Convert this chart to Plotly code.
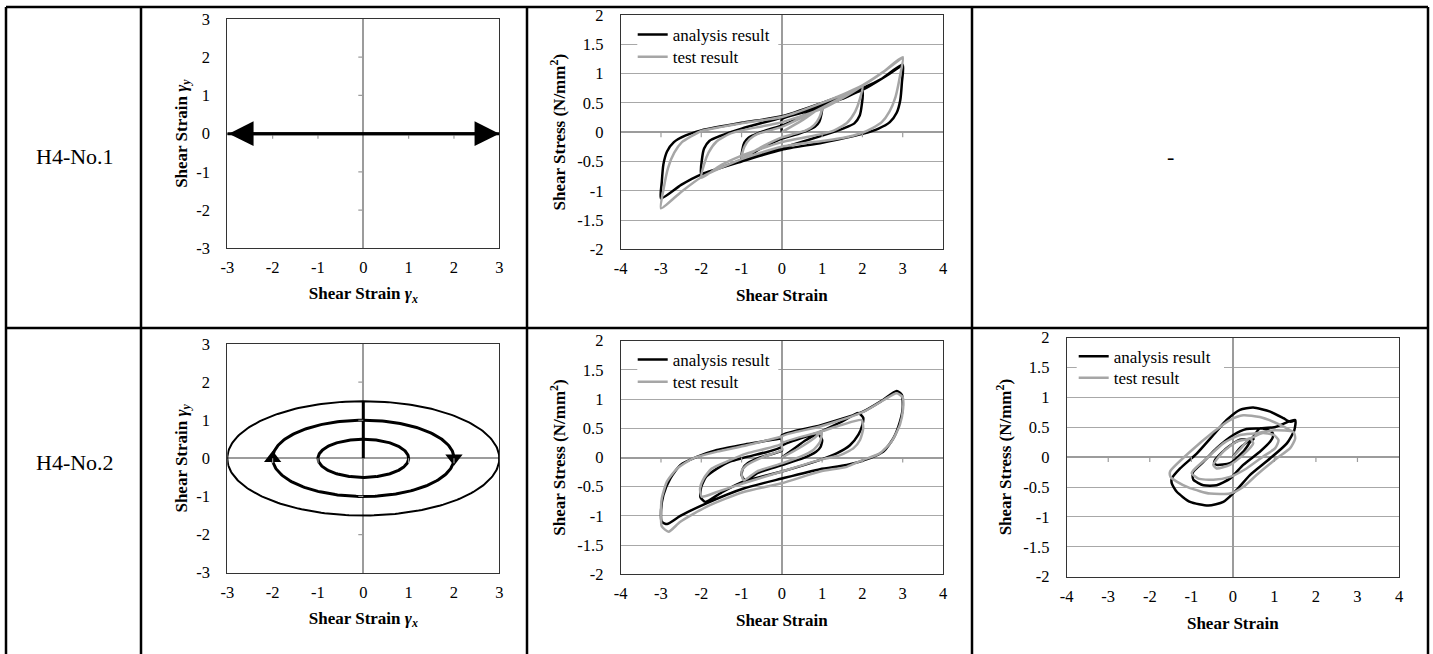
import numpy as np
import plotly.graph_objects as go

W, H = 1433, 654
FONT = "Liberation Serif, Times New Roman, serif"


def px(x):
    return x / W


def py(y):
    return 1 - y / H


# ------------------------------------------------------------------ data
row_labels = ["H4-No.1", "H4-No.2"]
empty_cell_text = "-"

# loading path H4-No.1 (uniaxial, gamma_y = 0)
no1_path_x = [-3, 3]
no1_path_y = [0, 0]

# loading path H4-No.2 (elliptical orbits)
no2_orbit_ax = [1, 2, 3]
no2_orbit_ay = [0.5, 1.0, 1.5]

path_tickvals = [-3, -2, -1, 0, 1, 2, 3]
path_ticktext = ["-3", "-2", "-1", "0", "1", "2", "3"]
strain_tickvals = [-4, -3, -2, -1, 0, 1, 2, 3, 4]
strain_ticktext = ["-4", "-3", "-2", "-1", "0", "1", "2", "3", "4"]
stress_tickvals = [-2, -1.5, -1, -0.5, 0, 0.5, 1, 1.5, 2]
stress_ticktext = ["-2", "-1.5", "-1", "-0.5", "0", "0.5", "1", "1.5", "2"]

# H4-No.1 hysteresis, analysis result
no1_ana_x = [0, 0, 0.5, 1.0,
             0.98, 0.93, 0.82, 0.6, 0.3, 0, -0.5, -1.0,
             -0.98, -0.93, -0.82, -0.6, -0.3, 0, 0.5, 1.0,
             1.5, 2.0,
             1.98, 1.93, 1.8, 1.55, 1.0, 0, -1.0, -1.5, -2.0,
             -1.98, -1.93, -1.8, -1.55, -1.0, 0, 1.0, 1.5, 2.0,
             2.5, 3.0,
             2.98, 2.94, 2.85, 2.68, 2.4, 2.0, 1.0, 0, -1.0, -2.0, -2.5, -3.0,
             -2.98, -2.94, -2.85, -2.68, -2.4, -2.0, -1.0, 0, 1.0, 2.0, 2.5, 3.0]
no1_ana_y = [0, 0.22, 0.33, 0.45,
             0.3, 0.18, 0.09, 0.02, -0.05, -0.11, -0.27, -0.45,
             -0.3, -0.18, -0.09, -0.02, 0.05, 0.11, 0.27, 0.45,
             0.57, 0.70,
             0.45, 0.28, 0.15, 0.07, -0.06, -0.27, -0.48, -0.6, -0.72,
             -0.45, -0.28, -0.15, -0.07, 0.06, 0.25, 0.47, 0.6, 0.72,
             0.92, 1.15,
             0.85, 0.55, 0.33, 0.17, 0.06, -0.03, -0.18, -0.3, -0.5, -0.72, -0.9, -1.13,
             -0.85, -0.55, -0.33, -0.17, -0.06, 0.03, 0.16, 0.27, 0.5, 0.75, 0.92, 1.15]

# H4-No.1 hysteresis, test result
no1_test_x = [0, 0.5, 1.0,
              0.93, 0.8, 0.6, 0.3, 0, -0.5, -1.0,
              -0.93, -0.8, -0.6, -0.3, 0, 0.5, 1.0,
              1.5, 2.0,
              1.93, 1.82, 1.62, 1.3, 1.0, 0, -1.0, -1.5, -2.0,
              -1.93, -1.82, -1.62, -1.3, -1.0, 0, 1.0, 1.5, 2.0,
              2.5, 3.0,
              2.93, 2.82, 2.67, 2.48, 2.25, 2.0, 1.5, 1.0, 0, -1.0, -2.0, -2.5, -3.0,
              -2.93, -2.82, -2.67, -2.48, -2.25, -2.0, -1.5, -1.0, 0, 1.0, 2.0, 2.5, 3.0]
no1_test_y = [0, 0.2, 0.42,
              0.25, 0.12, 0.03, -0.03, -0.09, -0.25, -0.44,
              -0.25, -0.12, -0.03, 0.03, 0.09, 0.25, 0.42,
              0.6, 0.79,
              0.55, 0.35, 0.16, 0.03, -0.03, -0.17, -0.4, -0.56, -0.78,
              -0.55, -0.35, -0.16, -0.03, 0.03, 0.17, 0.4, 0.58, 0.79,
              1.02, 1.28,
              0.95, 0.6, 0.35, 0.17, 0.07, -0.01, -0.1, -0.15, -0.25, -0.46, -0.77, -1.02, -1.3,
              -0.95, -0.6, -0.35, -0.17, -0.07, 0.02, 0.09, 0.15, 0.26, 0.5, 0.8, 1.02, 1.28]

# H4-No.2 hysteresis (gamma_x direction), analysis result
no2x_ana_x = [0, 0.3, 0.6, 0.9, 1.0, 0.96, 0.85, 0.53, 0, -0.62, -0.9, -1.0, -0.96, -0.85, -0.54, 0,
              0, 0.95, 1.5, 1.9, 2.02, 2.0, 1.9, 1.69, 1.36, 0.95, 0, -0.95, -1.5, -1.9,
              -2.02, -2.0, -1.88, -1.61, -1.29, -0.87, 0,
              0, 0.95, 2.0, 2.5, 2.85, 2.98, 3.0, 2.93, 2.77, 2.52, 2.19, 1.61, 0.95, 0,
              -0.95, -1.86, -2.52, -2.85, -2.98, -3.0, -2.94, -2.77, -2.52, -2.11, -1.61, -0.87, 0]
no2x_ana_y = [0, 0.15, 0.3, 0.4, 0.3, 0.18, 0.1, -0.01, -0.13, -0.27, -0.4, -0.3, -0.18, -0.1, 0.0, 0.12,
              0.2, 0.44, 0.62, 0.76, 0.68, 0.56, 0.39, 0.21, 0.07, -0.04, -0.24, -0.41, -0.6, -0.76,
              -0.68, -0.5, -0.33, -0.19, -0.07, 0.01, 0.19,
              0.38, 0.55, 0.78, 0.98, 1.14, 1.07, 0.84, 0.61, 0.33, 0.1, -0.01, -0.13, -0.2, -0.36,
              -0.53, -0.78, -1.0, -1.14, -1.1, -0.93, -0.64, -0.36, -0.13, 0.01, 0.13, 0.23, 0.33]

# H4-No.2 hysteresis (gamma_x direction), test result
no2x_test_x = [0, 0.4, 0.8, 0.99, 0.95, 0.78, 0.45, 0, -0.62, -0.95, -1.0, -0.87, -0.46, 0,
               0, 0.95, 1.5, 1.98, 2.02, 1.94, 1.78, 1.45, 0.95, 0, -0.95, -1.61, -1.99,
               -2.03, -1.94, -1.74, -1.37, -0.87, 0,
               0, 0.95, 2.02, 2.52, 2.85, 3.0, 3.01, 2.93, 2.72, 2.43, 2.02, 1.61, 0.95, 0,
               -0.95, -1.86, -2.52, -2.81, -2.98, -3.0, -2.98, -2.85, -2.6, -2.19, -1.61, -0.87, 0]
no2x_test_y = [0, 0.15, 0.33, 0.44, 0.27, 0.13, 0.01, -0.1, -0.24, -0.39, -0.24, -0.13, 0.01, 0.13,
               0.24, 0.44, 0.56, 0.64, 0.5, 0.3, 0.16, 0.04, -0.04, -0.24, -0.44, -0.59, -0.67,
               -0.53, -0.36, -0.19, -0.07, 0.07, 0.24,
               0.36, 0.53, 0.78, 0.98, 1.1, 1.03, 0.84, 0.56, 0.27, 0.07, -0.04, -0.16, -0.24, -0.44,
               -0.59, -0.84, -1.1, -1.27, -1.18, -0.98, -0.7, -0.41, -0.19, -0.01, 0.1, 0.21, 0.36]

# H4-No.2 hysteresis (gamma_y direction), analysis result
no2y_ana_x = [0, 0.17, 0.45, 0.5, 0.45, 0.25, -0.07, -0.39, -0.45, -0.43, -0.15, 0.17, 0.45,
              0.65, 0.94, 0.97, 0.9, 0.65, 0.25, -0.07, -0.39, -0.71, -0.95, -0.97, -0.95,
              -0.71, -0.39, 0.01, 0.33, 0.65, 1.0, 1.5,
              1.48, 1.3, 0.9, 0.41, 0.09, -0.23, -0.59, -1.03, -1.35, -1.47, -1.47, -1.27,
              -0.87, -0.47, -0.15, 0.17, 0.49, 0.9, 1.22, 1.38, 1.5]
no2y_ana_y = [0, 0.15, 0.3, 0.3, 0.28, 0.09, -0.1, -0.13, -0.1, -0.05, 0.15, 0.29, 0.31,
              0.48, 0.42, 0.35, 0.26, 0.09, -0.13, -0.36, -0.47, -0.47, -0.38, -0.3, -0.24,
              -0.08, 0.15, 0.37, 0.47, 0.48, 0.5, 0.62,
              0.45, 0.23, -0.02, -0.3, -0.55, -0.75, -0.81, -0.75, -0.58, -0.44, -0.36, -0.19,
              0.06, 0.37, 0.62, 0.79, 0.83, 0.76, 0.65, 0.59, 0.62]

# H4-No.2 hysteresis (gamma_y direction), test result
no2y_test_x = [0, 0.2, 0.41, 0.49, 0.25, -0.07, -0.39, -0.47, -0.23, 0.09, 0.41,
               0.7, 0.98, 1.1, 1.02, 0.73, 0.33, -0.07, -0.47, -0.83, -0.99, -0.95,
               -0.63, -0.23, 0.17, 0.57, 1.0, 1.46,
               1.5, 1.38, 1.06, 0.57, 0.25, -0.07, -0.55, -1.03, -1.35, -1.5, -1.51,
               -1.03, -0.47, -0.07, 0.25, 0.65, 1.14, 1.46]
no2y_test_y = [0, 0.15, 0.31, 0.23, 0.04, -0.13, -0.19, -0.13, 0.09, 0.26, 0.31,
               0.4, 0.37, 0.28, 0.15, 0.01, -0.19, -0.33, -0.38, -0.36, -0.27, -0.22,
               -0.02, 0.23, 0.37, 0.4, 0.45, 0.42,
               0.31, 0.15, -0.02, -0.3, -0.5, -0.61, -0.61, -0.52, -0.41, -0.33, -0.24,
               0.09, 0.42, 0.62, 0.7, 0.67, 0.54, 0.42]

series_names = ["analysis result", "test result"]

# ------------------------------------------------------------------ styles
BLACK = "#000000"
GRAY = "#a6a6a6"
GRID = "#a8a8a8"
ZERO = "#9c9c9c"
BORDER = "#333333"
TICK_FONT = dict(family=FONT, size=16.5, color="black")
TITLE_FONT = dict(family=FONT, size=17, color="black")

fig = go.Figure()

# -------- chart 1 : loading path H4-No.1
fig.add_trace(go.Scatter(x=no1_path_x, y=no1_path_y, mode="lines",
                         line=dict(color=BLACK, width=3), showlegend=False,
                         xaxis="x", yaxis="y", hoverinfo="skip"))

# -------- chart 3 : loading path H4-No.2 (ellipses)
theta = np.linspace(0, 2 * np.pi, 241)
for i, (a, b) in enumerate(zip(no2_orbit_ax, no2_orbit_ay)):
    fig.add_trace(go.Scatter(x=a * np.sin(theta), y=b * np.cos(theta), mode="lines",
                             line=dict(color=BLACK, width=2 if i == len(no2_orbit_ax) - 1 else 3),
                             showlegend=False, xaxis="x3", yaxis="y3", hoverinfo="skip"))
fig.add_trace(go.Scatter(x=[0, 0], y=[0, max(no2_orbit_ay)], mode="lines",
                         line=dict(color=BLACK, width=3), showlegend=False,
                         xaxis="x3", yaxis="y3", hoverinfo="skip"))
fig.add_trace(go.Scatter(x=[-no2_orbit_ax[1], no2_orbit_ax[1]], y=[0, 0], mode="markers",
                         marker=dict(symbol=["triangle-up", "triangle-down"], size=15, color=BLACK),
                         showlegend=False, xaxis="x3", yaxis="y3", hoverinfo="skip"))

# -------- hysteresis charts (each series gets its own one-row legend)
hyst = [
    ("x2", "y2", ("legend", "legend2"), no1_ana_x, no1_ana_y, no1_test_x, no1_test_y),
    ("x4", "y4", ("legend3", "legend4"), no2x_ana_x, no2x_ana_y, no2x_test_x, no2x_test_y),
    ("x5", "y5", ("legend5", "legend6"), no2y_ana_x, no2y_ana_y, no2y_test_x, no2y_test_y),
]
for xa, ya, lg, ax_, ay_, tx_, ty_ in hyst:
    fig.add_trace(go.Scatter(x=ax_, y=ay_, mode="lines", name=series_names[0],
                             line=dict(color=BLACK, width=2.5, shape="spline", smoothing=0.6),
                             xaxis=xa, yaxis=ya, legend=lg[0]))
    fig.add_trace(go.Scatter(x=tx_, y=ty_, mode="lines", name=series_names[1],
                             line=dict(color=GRAY, width=2.5, shape="spline", smoothing=0.6),
                             xaxis=xa, yaxis=ya, legend=lg[1]))


def axis(domain, rng, tickvals, ticktext, title, anchor, grid=False, ylike=False, standoff=6):
    d = dict(domain=domain, range=rng, tickvals=tickvals, ticktext=ticktext,
             tickfont=TICK_FONT, showline=True, linecolor=BORDER, linewidth=1, mirror=True,
             zeroline=True, zerolinecolor=ZERO, zerolinewidth=1.5,
             showgrid=grid, gridcolor=GRID, gridwidth=1,
             ticks="outside", ticklen=13 if ylike else 4, tickcolor="rgba(0,0,0,0)",
             anchor=anchor, fixedrange=True, automargin=False,
             title=dict(text=title, font=TITLE_FONT, standoff=standoff))
    return d


gx = "<b>Shear Strain <i>γ</i><sub><i>x</i></sub></b>"
gy = "<b>Shear Strain <i>γ</i><sub><i>y</i></sub></b>"
ss = "<b>Shear Strain</b>"
st = "<b>Shear Stress (N/mm<sup>2</sup>)</b>"

charts = {
    # name: (x0, x1, ytop, ybottom)
    "1": (227.3, 499.3, 19, 248.3),
    "2": (620.7, 943, 15, 249.3),
    "3": (227.3, 499.3, 344, 572.7),
    "4": (620.7, 943, 340.7, 574.3),
    "5": (1066.7, 1399, 337.5, 576.7),
}


def dom(c):
    x0, x1, yt, yb = charts[c]
    return [px(x0), px(x1)], [py(yb), py(yt)]


layout = dict(width=W, height=H, margin=dict(l=0, r=0, t=0, b=0, pad=0, autoexpand=False),
              paper_bgcolor="white", plot_bgcolor="white",
              font=dict(family=FONT, color="black"))

for c in ["1", "3"]:
    xd, yd = dom(c)
    k = "" if c == "1" else c
    layout["xaxis" + k] = axis(xd, [-3, 3], path_tickvals, path_ticktext, gx, "y" + k, standoff=11)
    layout["yaxis" + k] = axis(yd, [-3, 3], path_tickvals, path_ticktext, gy, "x" + k,
                               ylike=True, standoff=4)
for c in ["2", "4", "5"]:
    xd, yd = dom(c)
    layout["xaxis" + c] = axis(xd, [-4, 4], strain_tickvals, strain_ticktext, ss, "y" + c,
                               standoff=12)
    layout["yaxis" + c] = axis(yd, [-2, 2], stress_tickvals, stress_ticktext, st, "x" + c,
                               grid=True, ylike=True, standoff=7)

leg_common = dict(xanchor="left", yanchor="top", bgcolor="rgba(0,0,0,0)", borderwidth=0,
                  font=dict(family=FONT, size=17, color="black"), itemwidth=30)
# (legend name, line start x, row centre y)
legend_pos = [("legend", 641.7, 36), ("legend2", 641.7, 58.3),
              ("legend3", 641.7, 361), ("legend4", 641.7, 383.3),
              ("legend5", 1082.7, 357.7), ("legend6", 1082.7, 379.3)]
for name, lx, ly in legend_pos:
    layout[name] = dict(x=px(lx - 9), y=py(ly - 19), **leg_common)

shapes = []
# white legend boxes (interrupt the grid lines like the Excel legend)
for x0, x1, y0, y1 in [(637.3, 778.3, 28, 66), (637.3, 778.3, 353, 391), (1076.7, 1224, 348, 386)]:
    shapes.append(dict(type="rect", xref="paper", yref="paper", x0=px(x0), x1=px(x1),
                       y0=py(y1), y1=py(y0), fillcolor="white", line=dict(width=0), layer="above"))
# table grid
TL = dict(color="black", width=2.5)
for yv in [7, 328]:
    shapes.append(dict(type="line", xref="paper", yref="paper", x0=px(6), x1=px(1428),
                       y0=py(yv), y1=py(yv), line=TL))
for xv in [6, 141, 527, 972, 1428]:
    shapes.append(dict(type="line", xref="paper", yref="paper", x0=px(xv), x1=px(xv),
                       y0=py(7), y1=py(660), line=TL))

# small tick marks on the zero axes (Excel style, axes crossing at 0)
TK = dict(color=ZERO, width=1.2)
for k in ["", "3"]:
    for v in path_tickvals[1:-1]:
        if v == 0:
            continue
        shapes.append(dict(type="line", xref="x" + k, yref="y" + k, x0=v, x1=v,
                           ysizemode="pixel", yanchor=0, y0=0, y1=-5, line=TK))
        shapes.append(dict(type="line", xref="x" + k, yref="y" + k, y0=v, y1=v,
                           xsizemode="pixel", xanchor=0, x0=-5, x1=0, line=TK))
for k in ["2", "4", "5"]:
    for v in strain_tickvals[1:-1]:
        if v == 0:
            continue
        shapes.append(dict(type="line", xref="x" + k, yref="y" + k, x0=v, x1=v,
                           ysizemode="pixel", yanchor=0, y0=0, y1=-5, line=TK))
layout["shapes"] = shapes

annotations = []
# arrow heads of loading path H4-No.1
annotations.append(dict(x=no1_path_x[1], y=no1_path_y[1], ax=no1_path_x[0], ay=no1_path_y[0],
                        xref="x", yref="y", axref="x", ayref="y", text="", showarrow=True,
                        arrowhead=2, startarrowhead=2, arrowside="end+start",
                        arrowsize=1.65, startarrowsize=1.65, arrowwidth=3, arrowcolor=BLACK,
                        standoff=0, startstandoff=0))
# row labels
for lbl, yc in zip(row_labels, [157, 462]):
    annotations.append(dict(x=px(75), y=py(yc), xref="paper", yref="paper", text=lbl,
                            showarrow=False, font=dict(family=FONT, size=22, color="black"),
                            xanchor="center", yanchor="middle"))
annotations.append(dict(x=px(1170), y=py(157), xref="paper", yref="paper", text=empty_cell_text,
                        showarrow=False, font=dict(family=FONT, size=22, color="black"),
                        xanchor="center", yanchor="middle"))
layout["annotations"] = annotations

fig.update_layout(**layout)
post = ("var gd=document.getElementById('{plot_id}');"
        "gd.style.position='fixed';gd.style.left='0px';gd.style.top='0px';"
        "document.body.style.margin='0px';document.body.style.overflow='hidden';"
        "document.documentElement.style.overflow='hidden';")
fig.write_html("out.html", config={"displayModeBar": False}, post_script=post)
